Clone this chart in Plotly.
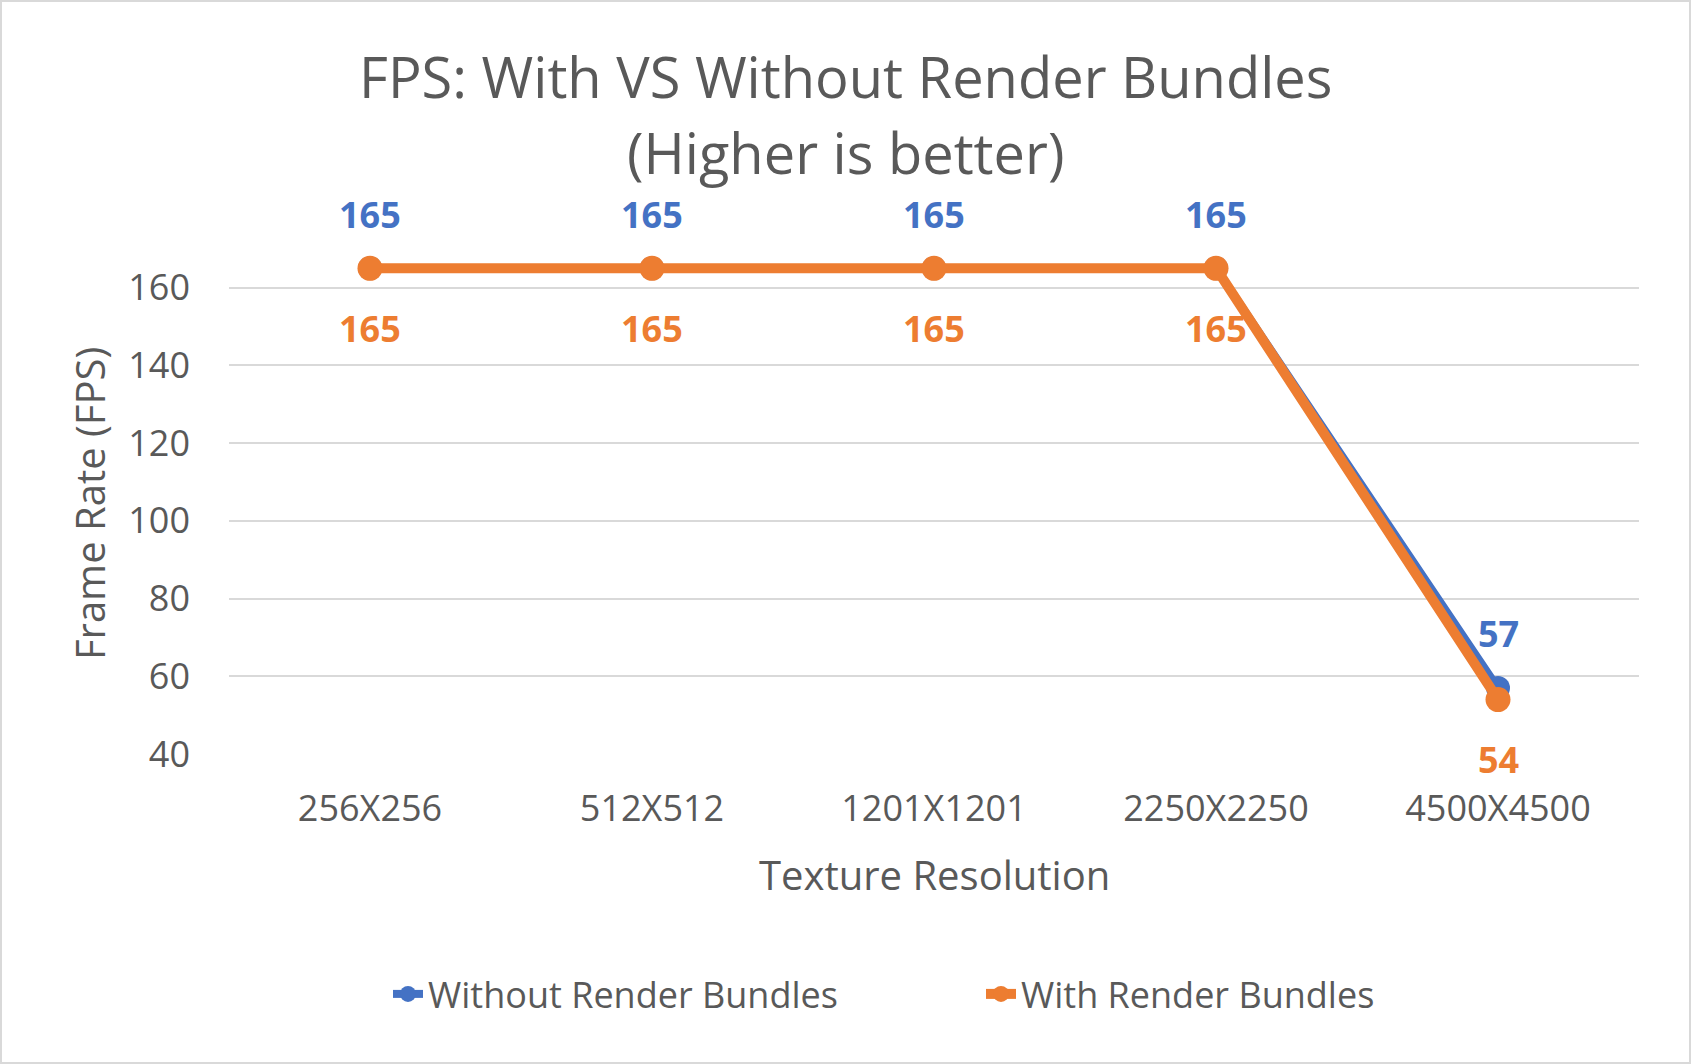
import plotly.graph_objects as go

categories = ["256X256", "512X512", "1201X1201", "2250X2250", "4500X4500"]
without_rb = [165, 165, 165, 165, 57]
with_rb = [165, 165, 165, 165, 54]
y_ticks = [40, 60, 80, 100, 120, 140, 160]

BLUE = "#4472C4"
ORANGE = "#ED7D31"
TXT = "#595959"
GRID = "#D9D9D9"
FONT = "Open Sans"

W, H = 1691, 1064
ML, MR, MT, MB = 229, 52, 210, 310
PW = W - ML - MR
PH = H - MT - MB

fig = go.Figure()
fig.add_trace(go.Scatter(
    x=categories, y=without_rb, name="Without Render Bundles",
    mode="lines+markers", line=dict(color=BLUE, width=8),
    marker=dict(color=BLUE, size=24), cliponaxis=False))
fig.add_trace(go.Scatter(
    x=categories, y=with_rb, name="With Render Bundles",
    mode="lines+markers", line=dict(color=ORANGE, width=10),
    marker=dict(color=ORANGE, size=25), cliponaxis=False))

annotations = []
for c, v in zip(categories, without_rb):
    annotations.append(dict(x=c, y=v, xref="x", yref="y", text=f"<b>{v}</b>",
                            showarrow=False, yshift=54,
                            font=dict(family=FONT, size=36, color=BLUE)))
for c, v in zip(categories, with_rb):
    annotations.append(dict(x=c, y=v, xref="x", yref="y", text=f"<b>{v}</b>",
                            showarrow=False, yshift=-60,
                            font=dict(family=FONT, size=36, color=ORANGE)))

def py(pix):
    return (H - MB - pix) / PH

def px(pix):
    return (pix - ML) / PW

annotations.append(dict(x=px(845.5), y=py(76), xref="paper", yref="paper",
                        text="FPS: With VS Without Render Bundles", showarrow=False,
                        xanchor="center", yanchor="middle",
                        font=dict(family=FONT, size=56, color=TXT)))
annotations.append(dict(x=px(845.5), y=py(152), xref="paper", yref="paper",
                        text="(Higher is better)", showarrow=False,
                        xanchor="center", yanchor="middle",
                        font=dict(family=FONT, size=56, color=TXT)))
annotations.append(dict(x=px(934), y=py(874.6), xref="paper", yref="paper",
                        text="Texture Resolution", showarrow=False,
                        xanchor="center", yanchor="middle",
                        font=dict(family=FONT, size=40, color=TXT)))
annotations.append(dict(x=px(89.5), y=py(503.6), xref="paper", yref="paper",
                        text="Frame Rate (FPS)", showarrow=False, textangle=-90,
                        xanchor="center", yanchor="middle",
                        font=dict(family=FONT, size=40, color=TXT)))

fig.update_layout(
    width=W, height=H,
    margin=dict(l=ML, r=MR, t=MT, b=MB),
    paper_bgcolor="white", plot_bgcolor="white",
    font=dict(family=FONT, color=TXT),
    showlegend=True,
    legend=dict(orientation="h", x=px(433 - 45), y=py(994), xanchor="left",
                yanchor="middle", font=dict(family=FONT, size=36, color=TXT),
                entrywidth=548, itemwidth=30, bgcolor="rgba(0,0,0,0)"),
    annotations=annotations,
    shapes=[dict(type="rect", xref="paper", yref="paper",
                 x0=px(1), x1=px(W - 1), y0=py(H - 1), y1=py(1),
                 line=dict(color=GRID, width=2), fillcolor="rgba(0,0,0,0)",
                 layer="below")],
)
fig.update_xaxes(type="category", range=[-0.5, len(categories) - 0.5],
                 showgrid=False, zeroline=False, showline=False,
                 ticks="", tickfont=dict(family=FONT, size=36, color=TXT),
                 ticklabelstandoff=30)
fig.update_yaxes(range=[40, 180], tickvals=y_ticks, showgrid=True, gridcolor=GRID,
                 gridwidth=2, zeroline=False, showline=False, ticks="",
                 tickfont=dict(family=FONT, size=36, color=TXT),
                 ticklabelstandoff=38)

fig.write_html("out.html")
